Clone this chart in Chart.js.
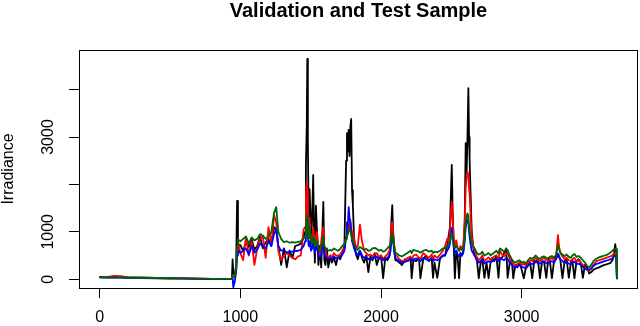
<!DOCTYPE html>
<html>
<head>
<meta charset="utf-8">
<title>Validation and Test Sample</title>
<script src="https://cdn.jsdelivr.net/npm/chart.js@4.4.0/dist/chart.umd.min.js"></script>
<style>
  html, body { margin: 0; padding: 0; background: #fff; }
  #wrap { width: 640px; height: 326px; }
</style>
</head>
<body>
<div id="wrap"><canvas id="irrChart" width="640" height="326"></canvas></div>
<script>
// sample index along the validation + test period (one line per stretch of the series)
const sampleIdx = [
  1, 50, 100, 150, 200, 300, 400, 500, 600, 700, 800, 900, 940,
  945, 950, 960, 970, 977, 983, 990,
  1000, 1020, 1040, 1060, 1080, 1100, 1120, 1140, 1160, 1180, 1200, 1220, 1240, 1255, 1270, 1290, 1310, 1330, 1350, 1370, 1390, 1410, 1430, 1450,
  1460, 1466, 1472, 1476, 1480, 1486, 1492, 1497, 1503, 1510, 1518, 1524, 1530, 1537, 1545, 1555, 1565, 1575, 1583, 1590, 1597, 1605, 1615, 1625, 1640,
  1650, 1665, 1680, 1695, 1710, 1725, 1740,
  1745, 1752, 1758, 1764, 1770, 1776, 1782, 1788, 1794, 1800, 1808, 1816, 1825, 1835,
  1850, 1865, 1880, 1895, 1910, 1925, 1940, 1955, 1970, 1985, 2000, 2015, 2030, 2045, 2060,
  2068, 2074, 2080, 2086, 2094, 2102,
  2110, 2130, 2150, 2170, 2190, 2210, 2218, 2230, 2250, 2270, 2280, 2300, 2320, 2340, 2360, 2370, 2380, 2400, 2420, 2440,
  2455, 2470, 2480, 2490, 2497, 2503, 2509, 2516, 2525, 2535, 2545, 2555, 2565, 2575, 2585, 2595, 2602, 2608, 2614, 2621, 2626, 2630, 2636, 2645, 2655, 2665,
  2680, 2695, 2710, 2720, 2735, 2750, 2765, 2780, 2790, 2805, 2820, 2835, 2845, 2860, 2875, 2890, 2900, 2915, 2930, 2940,
  2955, 2970, 2985, 3000, 3015, 3030, 3045, 3060, 3075, 3090, 3100, 3115, 3130, 3145, 3160, 3175, 3190, 3200, 3215, 3230,
  3245, 3258, 3265, 3275, 3290, 3305, 3320, 3335, 3350, 3360, 3375, 3390, 3405, 3420, 3435, 3450, 3465, 3480, 3495, 3510,
  3530, 3550, 3570, 3590, 3610, 3630, 3645, 3655, 3665, 3672, 3677
];

// observed irradiance (black)
const blackVals = [
  45, 40, 45, 40, 35, 30, 25, 20, 15, 10, 8, 5, 5,
  420, 150, 60, 300, 1650, 800, 700,
  720, 600, 780, 680, 850, 620, 700, 900, 650, 780, 850, 700, 1100, 1050, 700, 300, 650, 250, 600, 450, 700, 720, 750, 900,
  1000, 2400, 3200, 4650, 2900, 1200, 1900, 1500, 700, 1300, 2200, 900, 350, 1550, 1000, 300, 700, 250, 1000, 1630, 400, 300, 650, 250, 500,
  350, 450, 300, 500, 420, 550, 700,
  1500, 2500, 3080, 2700, 3150, 2600, 3220, 3380, 1880, 1550, 900, 650, 500, 420,
  600, 450, 350, 500, 150, 480, 400, 550, 300, 450, 500, 20, 450, 400, 480,
  800, 1250, 1560, 1000, 600, 400,
  400, 350, 300, 420, 380, 450, 20, 400, 380, 450, 20, 420, 500, 380, 450, 30, 350, 30, 450, 500,
  500, 700, 900, 1100, 1800, 2410, 1500, 800, 20, 600, 450, 20, 550, 500, 600, 1200, 2870, 2200, 2900, 4030, 3000, 2500, 1880, 1000, 700, 500,
  450, 20, 380, 420, 30, 350, 20, 400, 450, 380, 500, 30, 420, 450, 550, 650, 30, 350, 400, 20,
  300, 250, 350, 200, 20, 250, 300, 350, 20, 400, 350, 420, 20, 380, 350, 30, 450, 400, 20, 380,
  450, 500, 470, 400, 20, 380, 420, 30, 350, 400, 20, 380, 420, 350, 30, 300, 250, 120, 150, 200,
  230, 250, 280, 300, 320, 340, 400, 500, 740, 600, 20
];

// red model
const redVals = [
  40, 45, 70, 65, 40, 30, 25, 20, 15, 10, 8, 5, 5,
  80, 60, 40, 200, 600, 750, 700,
  550, 400, 900, 500, 800, 300, 650, 850, 900, 450, 1100, 750, 1350, 1200, 600, 400, 500, 550, 500, 450, 420, 480, 500, 1050,
  1100, 1700, 2050, 1900, 1400, 900, 1300, 1000, 800, 700, 1100, 900, 600, 900, 1000, 600, 500, 800, 1000, 1100, 700, 600, 500, 450, 500,
  450, 550, 500, 480, 520, 600, 650,
  800, 900, 1000, 950, 1150, 1050, 1250, 1100, 900, 1000, 850, 750, 650, 700,
  1150, 800, 600, 550, 500, 520, 480, 520, 550, 470, 500, 430, 480, 520, 600,
  800, 1100, 1210, 1000, 700, 500,
  500, 420, 380, 400, 450, 480, 400, 500, 520, 450, 430, 550, 500, 450, 520, 420, 500, 450, 520, 600,
  700, 850, 800, 1000, 1400, 1630, 1300, 900, 700, 820, 650, 600, 700, 650, 700, 1200, 1900, 2150, 2270, 2200, 1900, 1800, 1400, 900, 700, 600,
  480, 400, 450, 500, 380, 420, 460, 400, 440, 480, 500, 420, 610, 520, 480, 520, 560, 420, 350, 330,
  300, 320, 350, 300, 330, 280, 350, 400, 380, 420, 450, 400, 380, 420, 450, 400, 380, 420, 450, 400,
  500, 930, 700, 550, 480, 420, 450, 400, 380, 420, 450, 380, 400, 350, 300, 250, 200, 180, 220, 300,
  380, 400, 420, 440, 460, 480, 500, 540, 560, 560, 20
];

// blue model
const blueVals = [
  40, 35, 35, 35, 30, 25, 20, 15, 10, 8, 5, 3, 3,
  30, -170, -50, 150, 500, 550, 600,
  550, 600, 650, 520, 700, 560, 620, 750, 700, 650, 800, 700, 950, 1050, 700, 600, 620, 560, 580, 580, 590, 600, 620, 700,
  800, 1000, 1250, 1200, 900, 700, 800, 700, 600, 650, 800, 700, 550, 650, 700, 500, 450, 500, 700, 800, 550, 500, 450, 420, 450,
  420, 480, 440, 450, 460, 520, 600,
  700, 900, 1200, 1100, 1520, 1300, 1200, 1000, 800, 750, 650, 600, 500, 520,
  600, 500, 450, 480, 420, 450, 430, 460, 480, 420, 450, 400, 430, 450, 500,
  600, 800, 930, 800, 600, 450,
  420, 380, 350, 360, 400, 430, 380, 420, 440, 400, 380, 450, 420, 400, 430, 380, 420, 400, 430, 500,
  500, 600, 650, 750, 950, 1080, 900, 700, 550, 600, 520, 480, 550, 500, 550, 800, 1100, 1200, 1250, 1200, 1000, 900, 750, 600, 550, 500,
  400, 350, 380, 420, 330, 360, 380, 350, 380, 400, 420, 380, 450, 420, 400, 450, 420, 350, 300, 270,
  250, 270, 300, 260, 250, 230, 280, 330, 320, 350, 380, 340, 330, 360, 380, 340, 330, 360, 380, 350,
  420, 540, 500, 420, 380, 340, 360, 330, 320, 350, 370, 320, 330, 300, 260, 230, 200, 200, 230, 280,
  320, 340, 360, 380, 400, 420, 440, 480, 500, 500, 20
];

// green model
const greenVals = [
  45, 40, 40, 40, 35, 30, 25, 20, 15, 10, 8, 5, 5,
  60, 50, 40, 250, 700, 850, 820,
  800, 850, 900, 750, 880, 820, 850, 950, 920, 850, 900, 1000, 1400, 1520, 1000, 850, 780, 800, 770, 780, 770, 790, 800, 850,
  900, 1100, 1350, 1300, 1000, 850, 1100, 900, 800, 750, 900, 850, 700, 750, 800, 650, 600, 650, 800, 900, 700, 650, 620, 600, 620,
  600, 650, 620, 600, 640, 700, 750,
  800, 850, 900, 950, 1000, 1050, 1040, 950, 850, 800, 750, 700, 650, 620,
  680, 650, 620, 640, 600, 610, 650, 660, 640, 600, 620, 580, 600, 650, 700,
  750, 900, 970, 850, 700, 550,
  550, 500, 480, 520, 560, 600, 550, 620, 600, 580, 560, 600, 620, 580, 600, 550, 580, 570, 600, 650,
  650, 700, 750, 800, 900, 970, 850, 750, 650, 700, 650, 600, 650, 620, 650, 850, 1200, 1300, 1390, 1350, 1100, 1000, 900, 750, 700, 650,
  560, 520, 540, 580, 500, 520, 550, 500, 530, 560, 600, 540, 650, 620, 580, 630, 620, 500, 420, 380,
  350, 380, 400, 350, 370, 330, 400, 450, 430, 470, 500, 450, 430, 470, 480, 450, 430, 470, 490, 450,
  520, 720, 650, 560, 520, 480, 520, 470, 450, 500, 530, 470, 490, 450, 400, 350, 280, 250, 300, 380,
  430, 460, 480, 500, 520, 560, 600, 630, 640, 640, 20
];

const xTicks = [0, 1000, 2000, 3000];
const yTicks = [0, 1000, 2000, 3000, 4000];
const yTickLabels = ['0', '1000', '', '3000', ''];

Chart.defaults.font.family = "'Liberation Sans', Arial, Helvetica, sans-serif";
Chart.defaults.color = '#000';

function toPoints(vals) {
  return sampleIdx.map((x, i) => ({ x: x, y: vals[i] }));
}

function series(label, vals, color, order) {
  return {
    label: label,
    data: toPoints(vals),
    borderColor: color,
    borderWidth: 1.8,
    borderJoinStyle: 'round',
    borderCapStyle: 'round',
    pointRadius: 0,
    tension: 0,
    fill: false,
    order: order
  };
}

// R style box round the plot region
const boxPlugin = {
  id: 'plotBox',
  afterDraw(chart) {
    const a = chart.chartArea;
    const ctx = chart.ctx;
    ctx.save();
    ctx.strokeStyle = '#000';
    ctx.lineWidth = 1;
    ctx.strokeRect(a.left + 0.5, a.top + 0.5, a.right - a.left - 1, a.bottom - a.top);
    ctx.restore();
  }
};

const tickGrid = {
  drawOnChartArea: false,
  drawTicks: true,
  tickLength: 10,
  color: '#000',
  tickColor: '#000',
  lineWidth: 1
};

new Chart(document.getElementById('irrChart').getContext('2d'), {
  type: 'line',
  data: {
    datasets: [
      series('Observed', blackVals, '#000000', 3),
      series('Red', redVals, '#ff0000', 2),
      series('Blue', blueVals, '#0000ff', 1),
      series('Green', greenVals, '#006400', 0)
    ]
  },
  options: {
    responsive: false,
    animation: false,
    devicePixelRatio: 1,
    layout: { padding: { right: 2 } },
    plugins: {
      legend: { display: false },
      tooltip: { enabled: false },
      title: {
        display: true,
        text: 'Validation and Test Sample',
        fullSize: false,
        color: '#000',
        font: { size: 20, weight: 'bold', lineHeight: 1 },
        padding: { top: 1, bottom: 29 }
      }
    },
    scales: {
      x: {
        type: 'linear',
        min: -147,
        max: 3827,
        afterBuildTicks: s => { s.ticks = xTicks.map(v => ({ value: v })); },
        afterFit: s => { s.height = 38; },
        grid: tickGrid,
        border: { display: false },
        ticks: {
          autoSkip: false,
          maxRotation: 0,
          padding: 10,
          font: { size: 16 },
          callback: v => String(v)
        }
      },
      y: {
        type: 'linear',
        min: -186,
        max: 4836,
        afterBuildTicks: s => { s.ticks = yTicks.map(v => ({ value: v })); },
        afterFit: s => { s.width = 79; },
        grid: tickGrid,
        border: { display: false },
        ticks: {
          autoSkip: false,
          minRotation: 90,
          maxRotation: 90,
          crossAlign: 'center',
          padding: 3,
          font: { size: 16 },
          callback: (v, i) => yTickLabels[i]
        },
        title: {
          display: true,
          text: 'Irradiance',
          color: '#000',
          font: { size: 16, lineHeight: 1 },
          padding: { top: 0.5, bottom: 0 }
        }
      }
    }
  },
  plugins: [boxPlugin]
});
</script>
</body>
</html>
